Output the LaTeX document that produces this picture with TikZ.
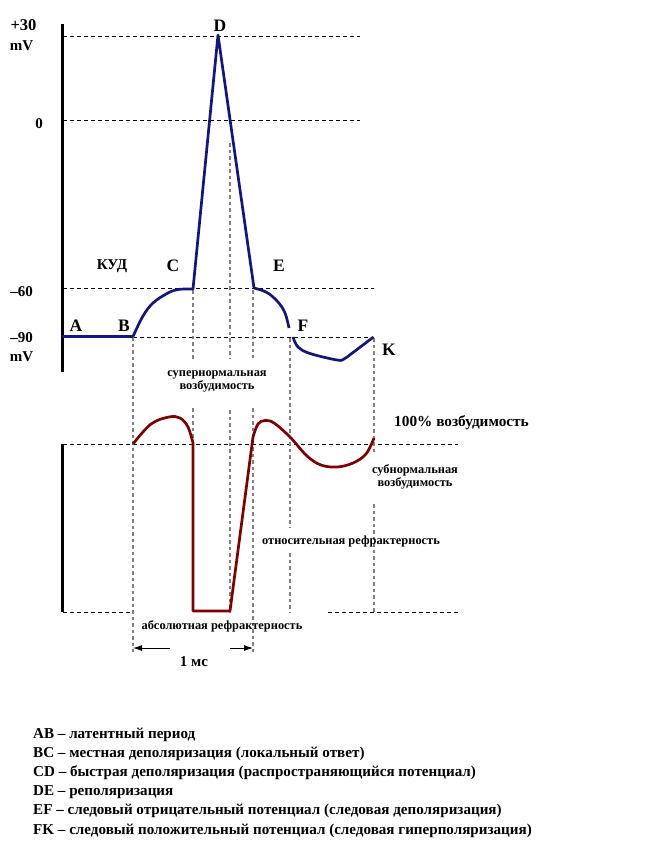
\documentclass[tikz,border=0pt]{standalone}
\usepackage{fontspec}
\setmainfont{Liberation Serif}
\usetikzlibrary{arrows.meta}
\definecolor{apblue}{RGB}{20,20,130}
\definecolor{apred}{RGB}{128,0,0}
\definecolor{guide}{RGB}{128,128,128}
\tikzset{
  axisline/.style={line width=3pt,black},
  level/.style={black,line width=0.8pt,dash pattern=on 4pt off 3pt},
  guideline/.style={guide,line width=1.3pt,dash pattern=on 3.5pt off 3pt},
  potential/.style={apblue,line width=2.7pt,line join=round},
  excit/.style={apred,line width=2.7pt,line join=round},
  lab/.style={font=\fontsize{15}{15}\selectfont\bfseries,inner sep=0pt},
  pt/.style={font=\fontsize{17.5}{17.5}\selectfont\bfseries,inner sep=0pt},
  small/.style={font=\fontsize{12.4}{13}\selectfont\bfseries,inner sep=0pt,align=center},
  legend/.style={font=\fontsize{15.1}{15}\selectfont\bfseries,inner sep=0pt,anchor=west},
  span/.style={-{Latex[length=9pt,width=6pt]},black,line width=0.9pt}
}
\begin{document}
\begin{tikzpicture}[x=1pt,y=-1pt]
\useasboundingbox[fill=white] (0,0) rectangle (662,854);
% ---- axes
\draw[axisline] (62,24) -- (62,372);
\draw[axisline] (62,444) -- (62,612);
% ---- levels
\draw[level] (63,36) -- (360,36);
\draw[level] (63,120) -- (360,120);
\draw[level] (63,288) -- (374,288);
\draw[level] (133,337) -- (374,337);
\draw[level] (63,444) -- (458,444);
\draw[level] (63,612) -- (133,612);
\draw[level] (328,612) -- (458,612);
% ---- guide lines
\draw[guideline] (133,337) -- (133,652);
\draw[guideline] (193,290) -- (193,360);
\draw[guideline] (193,408) -- (193,443);
\draw[guideline] (230,143) -- (230,358);
\draw[guideline] (230,410) -- (230,612);
\draw[guideline] (253,290) -- (253,358);
\draw[guideline] (253,408) -- (253,652);
\draw[guideline] (290,338) -- (290,527);
\draw[guideline] (290,553) -- (290,612);
\draw[guideline] (374,338) -- (374,453);
\draw[guideline] (374,504) -- (374,612);
% ---- key points
\coordinate (A) at (62,336.5);
\coordinate (B) at (133,336.5);
\coordinate (C) at (193,289);
\coordinate (D) at (218,35);
\coordinate (E) at (254,288);
\coordinate (F) at (289,328);
\coordinate (F2) at (293,337);
\coordinate (K) at (373.5,337);
% ---- action potential
\draw[potential] (A) -- (B) plot[smooth,tension=0.6] coordinates {(B) (143,316) (153,303) (167,293.5) (178,289.5) (C)} -- (D) -- (E)
  plot[smooth,tension=0.6] coordinates {(E) (267,292.5) (278,302) (285,313) (F)};
\draw[potential] plot[smooth,tension=0.6] coordinates {(F2) (298,347) (310,353.5) (337,360) (344,359) (353,352.5) (K)};
% ---- excitability
\coordinate (R0) at (133,444);
\coordinate (R1) at (193,443);
\coordinate (R2) at (193,611);
\coordinate (R3) at (230,611);
\coordinate (R4) at (253,437);
\coordinate (R5) at (374,438);
\draw[excit] plot[smooth,tension=0.6] coordinates {(R0) (151,424) (169,417) (180,418) (188,427) (R1)} -- (R2) -- (R3) -- (R4)
  plot[smooth,tension=0.6] coordinates {(R4) (258,424) (265,420.5) (274,423) (290,437) (307,456) (321,465) (337,467) (353,463) (366,454) (R5)};
% ---- axis labels
\node[lab,font=\fontsize{16.5}{16}\selectfont\bfseries] (p30) at (23.5,25.5) {+30};
\node[lab] (mv1) at (21.5,46) {mV};
\node[lab] (z0) at (39,124) {0};
\node[lab] (m60) at (21.5,292) {–60};
\node[lab] (m90) at (21.5,338) {–90};
\node[lab] (mv2) at (21.5,357) {mV};
% ---- point labels
\node[pt] (lD) at (220,26) {D};
\node[lab] (lkud) at (112,266) {КУД};
\node[pt] (lC) at (173,266) {C};
\node[pt] (lE) at (279,266) {Е};
\node[pt] (lA) at (76,326) {A};
\node[pt] (lB) at (124,326) {B};
\node[pt] (lF) at (303,326) {F};
\node[pt] (lK) at (389,350) {K};
% ---- region labels
\node[small] (sup) at (217,381) {супернормальная\\возбудимость};
\node[lab,font=\fontsize{15.3}{15}\selectfont\bfseries] (full) at (461.5,423) {100\% возбудимость};
\node[small] (sub) at (415,477) {субнормальная\\возбудимость};
\node[small] (rel) at (351,542) {относительная рефрактерность};
\node[small] (abs) at (222,626) {абсолютная рефрактерность};
% ---- 1 ms
\coordinate (m1) at (133,648);
\coordinate (m2) at (253,648);
\node[lab] (ms) at (194,662) {1 мс};
\draw[span] (170,648) -- (m1);
\draw[span] (230,648) -- (m2);
% ---- legend
\node[legend] (g1) at (33,735) {AB – латентный период};
\node[legend] (g2) at (33,754) {BC – местная деполяризация (локальный ответ)};
\node[legend] (g3) at (33,773) {CD – быстрая деполяризация (распространяющийся потенциал)};
\node[legend] (g4) at (33,792) {DЕ – реполяризация};
\node[legend] (g5) at (33,811) {ЕF – следовый отрицательный потенциал (следовая деполяризация)};
\node[legend] (g6) at (33,831) {FK – следовый положительный потенциал (следовая гиперполяризация)};
\end{tikzpicture}
\end{document}
